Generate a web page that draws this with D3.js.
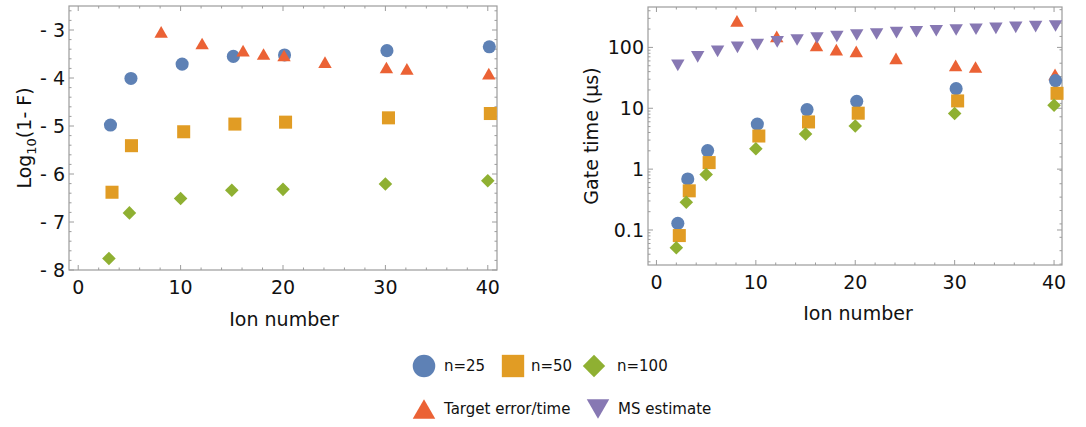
<!DOCTYPE html>
<html>
  <head>
    <meta charset="utf-8" />
    <script src="https://d3js.org/d3.v7.min.js"></script>
    <style>
      html, body {
        margin: 0;
        padding: 0;
        background: white;
      }
      body {
        font-family: 'DejaVu Sans', sans-serif;
      }
      #chart svg {
        display: block;
      }
    </style>
  </head>
  <body>
    <div id="chart"></div>

    <script>
      // --- data ---
      // left panel: log10(1-F) vs ion number
      var fidIonsN25 = [3.15, 5.15, 10.15, 15.15, 20.15, 30.15, 40.15];
      var fidN25 = [-4.98, -4.01, -3.71, -3.55, -3.52, -3.43, -3.35];
      var fidIonsN50 = [3.3, 5.2, 10.3, 15.3, 20.25, 30.3, 40.25];
      var fidN50 = [-6.38, -5.41, -5.12, -4.96, -4.92, -4.83, -4.74];
      var fidIonsN100 = [3, 5, 10, 15, 20, 30, 40];
      var fidN100 = [-7.76, -6.81, -6.51, -6.34, -6.32, -6.21, -6.14];
      var fidIonsTarget = [8.1, 12.1, 16.1, 18.1, 20.1, 24.1, 30.1, 32.1, 40.1];
      var fidTarget = [-3.04, -3.28, -3.43, -3.5, -3.53, -3.67, -3.78, -3.81, -3.91];

      // right panel: gate time (us) vs ion number
      var timeIonsN25 = [2.15, 3.15, 5.15, 10.15, 15.15, 20.15, 30.15, 40.15];
      var timeN25 = [0.129, 0.69, 2.02, 5.5, 9.5, 13.0, 21.0, 28.5];
      var timeIonsN50 = [2.3, 3.3, 5.3, 10.3, 15.3, 20.3, 30.3, 40.3];
      var timeN50 = [0.081, 0.44, 1.28, 3.5, 5.96, 8.3, 13.2, 17.6];
      var timeIonsN100 = [2, 3, 5, 10, 15, 20, 30, 40];
      var timeN100 = [0.051, 0.286, 0.815, 2.16, 3.78, 5.12, 8.2, 11.2];
      var timeIonsTarget = [8.1, 12.1, 16.1, 18.1, 20.1, 24.1, 30.1, 32.1, 40.1];
      var timeTarget = [273, 152, 108, 92, 86, 66, 50.6, 47.6, 36];
      var timeIonsMS = [2.15, 4.15, 6.15, 8.15, 10.15, 12.15, 14.15, 16.15, 18.15, 20.15,
                        22.15, 24.15, 26.15, 28.15, 30.15, 32.15, 34.15, 36.15, 38.15, 40.15];
      var timeMS = [50.6, 70, 86, 100, 111, 123, 132, 143, 151, 160,
                    166, 175, 181, 188, 193, 199, 205, 213, 219, 225];

      var xMajorTicks = [0, 10, 20, 30, 40];
      var fidMajorTicks = [-8, -7, -6, -5, -4, -3];
      var timeMajorTicks = [0.1, 1, 10, 100];
      var timeTickLabels = ["0.1", "1", "10", "100"];

      var legendRow1 = ["n=25", "n=50", "n=100"];
      var legendRow2 = ["Target error/time", "MS estimate"];

      var colors = {
        n25: "#5E81B5",
        n50: "#E19C24",
        n100: "#8FB032",
        target: "#EB6235",
        ms: "#8778B3"
      };

      var width = 1086;
      var height = 427;
      var frameColor = "#9c9c9c";

      var svg = d3.select("#chart").append("svg")
        .attr("width", width)
        .attr("height", height);

      // triangle centred on its bounding box (like the Mathematica markers)
      var triUp = {
        draw: function (ctx, size) {
          var w = Math.sqrt(size * 4 / Math.sqrt(3));
          var h = w * Math.sqrt(3) / 2;
          ctx.moveTo(0, -h / 2);
          ctx.lineTo(w / 2, h / 2);
          ctx.lineTo(-w / 2, h / 2);
          ctx.closePath();
        }
      };
      var triDown = {
        draw: function (ctx, size) {
          var w = Math.sqrt(size * 4 / Math.sqrt(3));
          var h = w * Math.sqrt(3) / 2;
          ctx.moveTo(0, h / 2);
          ctx.lineTo(w / 2, -h / 2);
          ctx.lineTo(-w / 2, -h / 2);
          ctx.closePath();
        }
      };
      var diamond = {
        draw: function (ctx, size) {
          var r = Math.sqrt(size / 2);
          ctx.moveTo(0, -r);
          ctx.lineTo(r, 0);
          ctx.lineTo(0, r);
          ctx.lineTo(-r, 0);
          ctx.closePath();
        }
      };

      var markers = {
        n25: d3.symbol().type(d3.symbolCircle).size(135),
        n50: d3.symbol().type(d3.symbolSquare).size(170),
        n100: d3.symbol().type(diamond).size(92),
        target: d3.symbol().type(triUp).size(78),
        ms: d3.symbol().type(triDown).size(78)
      };

      function range(a, b, step) {
        return d3.range(a, b + step / 2, step).map(function (v) { return +v.toFixed(4); });
      }

      function drawFrame(g, x, y) {
        var x0 = x.range()[0], x1 = x.range()[1];
        var y0 = y.range()[0], y1 = y.range()[1];
        g.append("rect")
          .attr("x", x0).attr("y", y1)
          .attr("width", x1 - x0).attr("height", y0 - y1)
          .attr("fill", "none")
          .attr("stroke", frameColor)
          .attr("stroke-width", 1.2);
      }

      // frame ticks pointing inwards, on all four sides
      function drawXTicks(g, x, y, major, minor) {
        var yb = y.range()[0], yt = y.range()[1];
        var all = minor.map(function (v) { return { v: v, len: 2.5 }; })
          .concat(major.map(function (v) { return { v: v, len: 5 }; }));
        g.selectAll(null).data(all).enter().append("line")
          .attr("x1", function (d) { return x(d.v); })
          .attr("x2", function (d) { return x(d.v); })
          .attr("y1", yb).attr("y2", function (d) { return yb - d.len; })
          .attr("stroke", frameColor);
        g.selectAll(null).data(all).enter().append("line")
          .attr("x1", function (d) { return x(d.v); })
          .attr("x2", function (d) { return x(d.v); })
          .attr("y1", yt).attr("y2", function (d) { return yt + d.len; })
          .attr("stroke", frameColor);
        g.selectAll(null).data(major).enter().append("text")
          .attr("x", function (d) { return x(d); })
          .attr("y", yb + 24)
          .attr("text-anchor", "middle")
          .attr("font-size", 19)
          .attr("fill", "#111")
          .text(function (d) { return d; });
      }

      function drawYTicks(g, x, y, major, minor, labels, fontSize, rightMinor) {
        var xl = x.range()[0], xr = x.range()[1];
        var left = minor.map(function (v) { return { v: v, len: 2.5 }; })
          .concat(major.map(function (v) { return { v: v, len: 5 }; }));
        var right = (rightMinor || minor).map(function (v) { return { v: v, len: 2.5 }; })
          .concat(major.map(function (v) { return { v: v, len: 5 }; }));
        g.selectAll(null).data(left).enter().append("line")
          .attr("y1", function (d) { return y(d.v); })
          .attr("y2", function (d) { return y(d.v); })
          .attr("x1", xl).attr("x2", function (d) { return xl + d.len; })
          .attr("stroke", frameColor);
        g.selectAll(null).data(right).enter().append("line")
          .attr("y1", function (d) { return y(d.v); })
          .attr("y2", function (d) { return y(d.v); })
          .attr("x1", xr).attr("x2", function (d) { return xr - d.len; })
          .attr("stroke", frameColor);
        g.selectAll(null).data(major).enter().append("text")
          .attr("x", xl - 4)
          .attr("y", function (d) { return y(d); })
          .attr("dy", "0.36em")
          .attr("text-anchor", "end")
          .attr("font-size", fontSize)
          .attr("fill", "#111")
          .text(function (d, i) { return labels[i]; });
      }

      function drawSeries(g, x, y, xs, ys, key) {
        g.selectAll(null).data(ys).enter().append("path")
          .attr("d", markers[key])
          .attr("transform", function (d, i) {
            return "translate(" + x(xs[i]) + "," + y(d) + ")";
          })
          .attr("fill", colors[key]);
      }

      // ---------- left panel ----------
      var xL = d3.scaleLinear().domain([-0.9, 40.9]).range([69, 497]);
      var yL = d3.scaleLinear().domain([-8, -2.5]).range([270, 6]);
      var gL = svg.append("g");

      drawFrame(gL, xL, yL);
      drawXTicks(gL, xL, yL, xMajorTicks, range(2, 40, 2).filter(function (v) { return v % 10 !== 0; }));
      drawYTicks(gL, xL, yL, fidMajorTicks,
        range(-8, -2.6, 0.2).filter(function (v) { return v % 1 !== 0; }),
        fidMajorTicks.map(function (v) { return "- " + Math.abs(v); }), 19);

      drawSeries(gL, xL, yL, fidIonsN25, fidN25, "n25");
      drawSeries(gL, xL, yL, fidIonsN50, fidN50, "n50");
      drawSeries(gL, xL, yL, fidIonsN100, fidN100, "n100");
      drawSeries(gL, xL, yL, fidIonsTarget, fidTarget, "target");

      gL.append("text")
        .attr("x", 284).attr("y", 326)
        .attr("text-anchor", "middle")
        .attr("font-size", 19)
        .attr("fill", "#111")
        .text("Ion number");

      var yLabL = gL.append("text")
        .attr("transform", "translate(31,138) rotate(-90)")
        .attr("text-anchor", "middle")
        .attr("font-size", 19)
        .attr("fill", "#111");
      yLabL.append("tspan").text("Log");
      yLabL.append("tspan").attr("font-size", 13).attr("dy", 5).text("10");
      yLabL.append("tspan").attr("dy", -5).text("(1- F)");

      // ---------- right panel ----------
      var xR = d3.scaleLinear().domain([-0.85, 40.8]).range([648, 1062]);
      var yR = d3.scaleLog().domain([0.0266, 461]).range([265, 7]);
      var gR = svg.append("g");

      var logMinor = [];
      [0.01, 0.1, 1, 10, 100].forEach(function (dec) {
        d3.range(2, 10).forEach(function (k) {
          var v = dec * k;
          if (v > 0.0266 && v < 461) logMinor.push(v);
        });
      });
      var logRightMinor = d3.range(-1.56, 2.66, 0.22).map(function (e) { return Math.pow(10, e); });

      drawFrame(gR, xR, yR);
      drawXTicks(gR, xR, yR, xMajorTicks, range(2, 40, 2).filter(function (v) { return v % 10 !== 0; }));
      drawYTicks(gR, xR, yR, timeMajorTicks, logMinor, timeTickLabels, 19, logRightMinor);

      drawSeries(gR, xR, yR, timeIonsTarget, timeTarget, "target");
      drawSeries(gR, xR, yR, timeIonsMS, timeMS, "ms");
      drawSeries(gR, xR, yR, timeIonsN25, timeN25, "n25");
      drawSeries(gR, xR, yR, timeIonsN50, timeN50, "n50");
      drawSeries(gR, xR, yR, timeIonsN100, timeN100, "n100");

      gR.append("text")
        .attr("x", 858).attr("y", 320)
        .attr("text-anchor", "middle")
        .attr("font-size", 19)
        .attr("fill", "#111")
        .text("Ion number");

      gR.append("text")
        .attr("transform", "translate(598,136) rotate(-90)")
        .attr("text-anchor", "middle")
        .attr("font-size", 19)
        .attr("fill", "#111")
        .text("Gate time (μs)");

      // ---------- legend ----------
      var legend = svg.append("g").attr("font-size", 15).attr("fill", "#111");
      var legendBig = {
        n25: d3.symbol().type(d3.symbolCircle).size(400),
        n50: d3.symbol().type(d3.symbolSquare).size(500),
        n100: d3.symbol().type(diamond).size(250),
        target: d3.symbol().type(triUp).size(220),
        ms: d3.symbol().type(triDown).size(220)
      };
      var row1 = [
        { key: "n25", mx: 424, tx: 444 },
        { key: "n50", mx: 513, tx: 531 },
        { key: "n100", mx: 594, tx: 617 }
      ];
      var row2 = [
        { key: "target", mx: 424, tx: 444 },
        { key: "ms", mx: 598, tx: 618 }
      ];
      function drawLegendRow(items, texts, cy) {
        items.forEach(function (it, i) {
          legend.append("path")
            .attr("d", legendBig[it.key])
            .attr("transform", "translate(" + it.mx + "," + cy + ")")
            .attr("fill", colors[it.key]);
          legend.append("text")
            .attr("x", it.tx).attr("y", cy)
            .attr("dy", "0.3em")
            .text(texts[i]);
        });
      }
      drawLegendRow(row1, legendRow1, 366);
      drawLegendRow(row2, legendRow2, 409);
    </script>
  </body>
</html>
